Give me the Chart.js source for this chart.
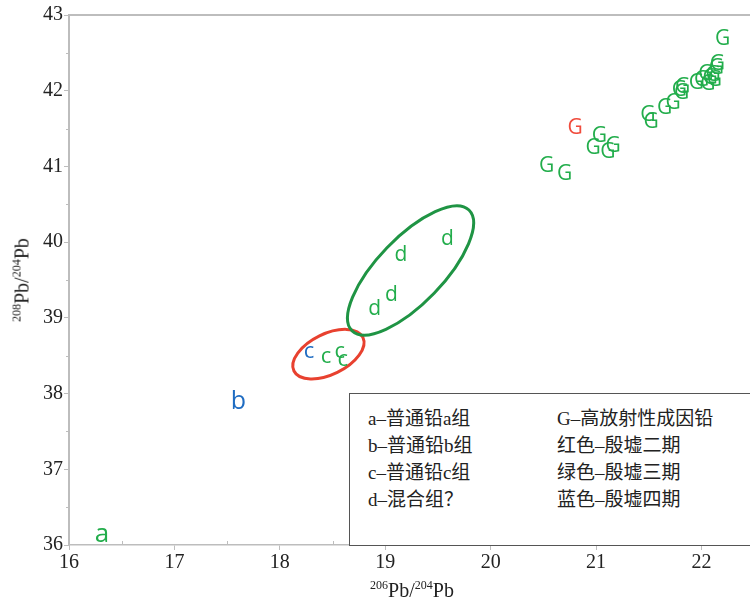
<!DOCTYPE html>
<html>
<head>
<meta charset="utf-8">
<script src="https://cdn.jsdelivr.net/npm/chart.js@4.4.1/dist/chart.umd.min.js"></script>
<style>
  html, body { margin: 0; padding: 0; background: #fff; }
  #wrap { position: relative; width: 750px; height: 603px; overflow: hidden; }
  #plot { position: absolute; left: 0; top: 0; }
  .title { position: absolute; font-family: "Liberation Serif", "Times New Roman", serif; font-size: 20px; line-height: 20px; color: #222; white-space: nowrap; }
  .title .sup { font-size: 12px; position: relative; top: -8px; }
  #xTitle { left: 412px; top: 580px; transform: translateX(-50%); }
  #yTitle { left: 23px; top: 280px; transform: translate(-50%, -50%) rotate(-90deg); }
  #legendBox { position: absolute; left: 349px; top: 393px; width: 440px; height: 153px; box-sizing: border-box;
               border: 1px solid #555; background: #fff; }
  .legendCol { position: absolute; top: 11px; font-family: "Liberation Serif", "Noto Sans CJK SC", serif;
               font-size: 19px; line-height: 27px; color: #222; white-space: nowrap; }
</style>
</head>
<body>
<div id="wrap">
  <canvas id="plot" width="750" height="603"></canvas>
  <div id="legendBox">
    <div class="legendCol" id="legCol1" style="left:18px"></div>
    <div class="legendCol" id="legCol2" style="left:207px"></div>
  </div>
  <div class="title" id="xTitle"></div>
  <div class="title" id="yTitle"></div>
</div>
<script>
// Axis ranges and tick values
const xRange = [16, 22.46];
const yRange = [36, 43];
const xTickValues = [16, 17, 18, 19, 20, 21, 22];
const yTickValues = [36, 37, 38, 39, 40, 41, 42, 43];

// Axis titles: [mass number, element] pairs
const xTitleParts = [['206', 'Pb'], ['204', 'Pb']];
const yTitleParts = [['208', 'Pb'], ['204', 'Pb']];

// Samples: [206Pb/204Pb, 208Pb/204Pb]
const groupA = [[16.31, 36.13]];
const groupB = [[17.61, 37.92]];
const groupCBlue = [[18.28, 38.55]];
const groupCGreen = [[18.44, 38.48], [18.57, 38.55], [18.60, 38.44]];
const groupD = [[18.90, 39.14], [19.06, 39.33], [19.15, 39.86], [19.59, 40.07]];
const groupGRed = [[20.80, 41.54]];
const groupGGreen = [
  [20.53, 41.03], [20.70, 40.92], [21.03, 41.43], [20.97, 41.27], [21.16, 41.30], [21.11, 41.22],
  [21.49, 41.70], [21.52, 41.61], [21.65, 41.80], [21.73, 41.86], [21.79, 42.03], [21.82, 42.08],
  [21.81, 41.99], [21.95, 42.13], [22.00, 42.17], [22.08, 42.19], [22.11, 42.23], [22.14, 42.32],
  [22.15, 42.38], [22.06, 42.12], [22.12, 42.17], [22.04, 42.25], [22.20, 42.71]
];

// Grouping rings: centre, end of the long axis, short/long axis ratio
const ringCGroup = { centre: [18.461, 38.520], axisEnd: [18.788, 38.742], ratio: 0.53 };
const ringDGroup = { centre: [19.240, 39.626], axisEnd: [19.794, 40.424], ratio: 0.39 };

// Legend rows
const legendLetters = ['a–普通铅a组', 'b–普通铅b组', 'c–普通铅c组', 'd–混合组？'];
const legendColours = ['G–高放射性成因铅', '红色–殷墟二期', '绿色–殷墟三期', '蓝色–殷墟四期'];

// ---- styling ----
const GREEN = '#22ad4b';
const RED = '#f04b3c';
const BLUE = '#1f6cc2';
const AXIS_GREY = '#bdbdbd';
const LETTER_FONT = '"Open Sans", "DejaVu Sans", sans-serif';

const series = [
  { letter: 'a', colour: GREEN, size: 26, points: groupA },
  { letter: 'b', colour: BLUE, size: 25, points: groupB },
  { letter: 'c', colour: BLUE, size: 22, points: groupCBlue },
  { letter: 'c', colour: GREEN, size: 22, points: groupCGreen },
  { letter: 'd', colour: GREEN, size: 21, points: groupD },
  { letter: 'G', colour: RED, size: 21, points: groupGRed },
  { letter: 'G', colour: GREEN, size: 21, points: groupGGreen }
];

function fillTitle(el, parts) {
  el.innerHTML = parts.map(([m, e]) => `<span class="sup">${m}</span>${e}`).join('/');
}
fillTitle(document.getElementById('xTitle'), xTitleParts);
fillTitle(document.getElementById('yTitle'), yTitleParts);
document.getElementById('legCol1').innerHTML = legendLetters.join('<br>');
document.getElementById('legCol2').innerHTML = legendColours.join('<br>');

// Top frame line plus half-unit minor ticks
const framePlugin = {
  id: 'frame',
  afterDraw(chart) {
    const { ctx, chartArea: a, scales: { x, y } } = chart;
    ctx.save();
    ctx.strokeStyle = AXIS_GREY;
    ctx.lineWidth = 2;
    ctx.beginPath();
    ctx.moveTo(a.left - 1, a.top);
    ctx.lineTo(a.right, a.top);
    ctx.stroke();
    ctx.lineWidth = 1;
    ctx.beginPath();
    for (let i = 0; i < xTickValues.length; i++) {
      const v = xTickValues[i] + 0.5;
      if (v > xRange[1]) break;
      const px = Math.round(x.getPixelForValue(v)) + 0.5;
      ctx.moveTo(px, a.bottom);
      ctx.lineTo(px, a.bottom - 4);
    }
    for (let i = 0; i < yTickValues.length - 1; i++) {
      const py = Math.round(y.getPixelForValue(yTickValues[i] + 0.5)) + 0.5;
      ctx.moveTo(a.left, py);
      ctx.lineTo(a.left - 3, py);
    }
    ctx.stroke();
    ctx.restore();
  }
};

// Ellipses around the c and d groups
const ringPlugin = {
  id: 'rings',
  afterDatasetsDraw(chart) {
    const { ctx, scales: { x, y } } = chart;
    const rings = [[ringCGroup, '#e8412f'], [ringDGroup, '#1f9444']];
    ctx.save();
    ctx.lineWidth = 3;
    rings.forEach(([r, colour]) => {
      const cx = x.getPixelForValue(r.centre[0]);
      const cy = y.getPixelForValue(r.centre[1]);
      const ex = x.getPixelForValue(r.axisEnd[0]);
      const ey = y.getPixelForValue(r.axisEnd[1]);
      const major = Math.hypot(ex - cx, ey - cy);
      const angle = Math.atan2(ey - cy, ex - cx);
      ctx.strokeStyle = colour;
      ctx.beginPath();
      ctx.ellipse(cx, cy, major, major * r.ratio, angle, 0, Math.PI * 2);
      ctx.stroke();
    });
    ctx.restore();
  }
};

// Each sample is marked by its group letter, centred on the point
const letterPlugin = {
  id: 'letters',
  afterDatasetsDraw(chart) {
    const ctx = chart.ctx;
    ctx.save();
    chart.data.datasets.forEach((ds, i) => {
      const meta = chart.getDatasetMeta(i);
      ctx.font = `${ds.letterSize}px ${LETTER_FONT}`;
      ctx.fillStyle = ds.letterColour;
      ctx.textAlign = 'left';
      ctx.textBaseline = 'alphabetic';
      const m = ctx.measureText(ds.letter);
      const dx = (m.actualBoundingBoxRight - m.actualBoundingBoxLeft) / 2;
      const dy = (m.actualBoundingBoxAscent - m.actualBoundingBoxDescent) / 2;
      meta.data.forEach(pt => {
        ctx.fillText(ds.letter, pt.x - dx, pt.y + dy);
      });
    });
    ctx.restore();
  }
};

const tickFont = { family: '"Liberation Serif", "Times New Roman", serif', size: 20 };

new Chart(document.getElementById('plot'), {
  type: 'scatter',
  data: {
    datasets: series.map(s => ({
      label: s.letter,
      letter: s.letter,
      letterColour: s.colour,
      letterSize: s.size,
      data: s.points.map(([vx, vy]) => ({ x: vx, y: vy })),
      pointRadius: 0,
      pointHoverRadius: 0,
      showLine: false
    }))
  },
  options: {
    responsive: false,
    animation: false,
    devicePixelRatio: 1,
    events: [],
    layout: { padding: { top: 15, left: 0, right: 0, bottom: 0 } },
    plugins: { legend: { display: false }, tooltip: { enabled: false } },
    scales: {
      x: {
        type: 'linear',
        min: xRange[0],
        max: xRange[1],
        afterBuildTicks: s => { s.ticks = xTickValues.map(v => ({ value: v })); },
        afterFit: s => { s.height = 58; },
        grid: { drawOnChartArea: false, drawTicks: true, tickLength: 5, color: AXIS_GREY },
        border: { color: AXIS_GREY, width: 1.5 },
        ticks: { font: tickFont, color: '#222', padding: 1, maxRotation: 0, autoSkip: false }
      },
      y: {
        type: 'linear',
        min: yRange[0],
        max: yRange[1],
        afterBuildTicks: s => { s.ticks = yTickValues.map(v => ({ value: v })); },
        afterFit: s => { s.width = 69; },
        grid: { drawOnChartArea: false, drawTicks: true, tickLength: 5, color: AXIS_GREY },
        border: { color: AXIS_GREY, width: 2 },
        ticks: { font: tickFont, color: '#222', padding: 1, autoSkip: false }
      }
    }
  },
  plugins: [framePlugin, ringPlugin, letterPlugin]
});
</script>
</body>
</html>
